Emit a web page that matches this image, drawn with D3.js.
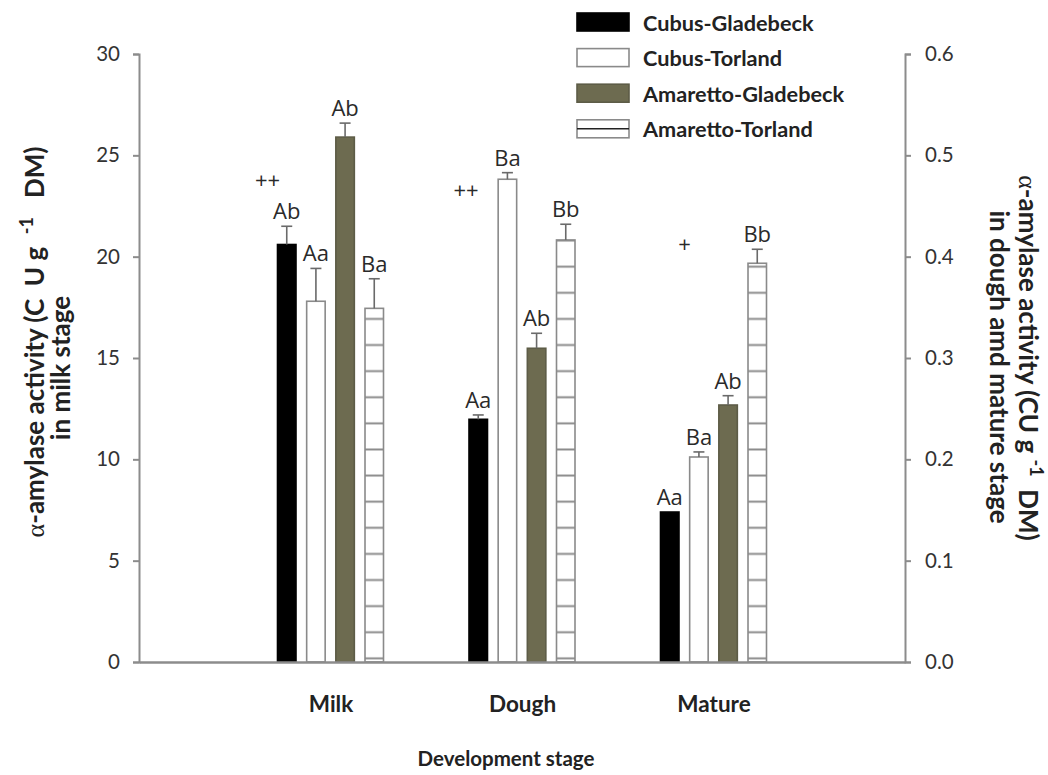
<!DOCTYPE html>
<html>
<head>
<meta charset="utf-8">
<script src="https://cdn.jsdelivr.net/npm/d3@7"></script>
<style>
  html, body { margin: 0; padding: 0; background: #fff; }
  svg { display: block; }
</style>
</head>
<body>
<svg id="chart" width="1048" height="775"></svg>
<script>
// Development stages and cultivar-location series
const stages = ["Milk", "Dough", "Mature"];
const series = ["Cubus-Gladebeck", "Cubus-Torland", "Amaretto-Gladebeck", "Amaretto-Torland"];

// Milk stage is read on the left axis, dough and mature on the right axis
const milkValues   = [20.6, 17.8, 25.9, 17.45];
const milkErrors   = [0.9, 1.62, 0.69, 1.46];
const doughValues  = [0.2395, 0.4764, 0.3096, 0.4165];
const doughErrors  = [0.0043, 0.0065, 0.0148, 0.0155];
const matureValues = [0.148, 0.2023, 0.2536, 0.3935];
const matureErrors = [0, 0.005, 0.0092, 0.0138];

// Significance letters above each bar
const milkLetters   = ["Ab", "Aa", "Ab", "Ba"];
const doughLetters  = ["Aa", "Ba", "Ab", "Bb"];
const matureLetters = ["Aa", "Ba", "Ab", "Bb"];
const stageMarks    = ["++", "++", "+"];

// Axis ticks
const leftTicks  = [0, 5, 10, 15, 20, 25, 30];
const rightTicks = [0, 0.1, 0.2, 0.3, 0.4, 0.5, 0.6];

const svg = d3.select("#chart");

const plot = { left: 139, right: 905, top: 54, bottom: 662 };

const yL = d3.scaleLinear().domain([0, 30]).range([plot.bottom, plot.top]);
const yR = d3.scaleLinear().domain([0, 0.6]).range([plot.bottom, plot.top]);

const x0 = d3.scalePoint().domain(stages).range([plot.left, plot.right]).padding(1);
const x1 = d3.scaleBand().domain(series).range([-53, 53]).paddingInner(0.366);

const fills = {
  "Cubus-Gladebeck": "#000000",
  "Cubus-Torland": "#ffffff",
  "Amaretto-Gladebeck": "#6d6b50",
  "Amaretto-Torland": "url(#hlines)"
};
const strokes = {
  "Cubus-Gladebeck": "#000000",
  "Cubus-Torland": "#8a8a8a",
  "Amaretto-Gladebeck": "#5d5c47",
  "Amaretto-Torland": "#8a8a8a"
};

// Horizontal-line fill
const defs = svg.append("defs");
const hStep = 26.11;
const pat = defs.append("pattern")
  .attr("id", "hlines")
  .attr("patternUnits", "userSpaceOnUse")
  .attr("x", 0).attr("y", 266.7 - hStep / 2)
  .attr("width", 40).attr("height", hStep);
pat.append("rect").attr("width", 40).attr("height", hStep).attr("fill", "#fff");
pat.append("line")
  .attr("x1", 0).attr("x2", 40)
  .attr("y1", hStep / 2).attr("y2", hStep / 2)
  .attr("stroke", "#8a8a8a").attr("stroke-width", 2);

// Assemble rows for drawing
const stageData = [
  { stage: "Milk",   values: milkValues,   errors: milkErrors,   letters: milkLetters,   y: yL },
  { stage: "Dough",  values: doughValues,  errors: doughErrors,  letters: doughLetters,  y: yR },
  { stage: "Mature", values: matureValues, errors: matureErrors, letters: matureLetters, y: yR }
];
const rows = [];
stageData.forEach(sd => {
  series.forEach((s, i) => {
    rows.push({ stage: sd.stage, series: s, value: sd.values[i], err: sd.errors[i], letter: sd.letters[i], y: sd.y });
  });
});

const barX = d => x0(d.stage) + x1(d.series);
const bw = x1.bandwidth();

// Bars
svg.append("g").selectAll("rect")
  .data(rows).join("rect")
  .attr("x", barX)
  .attr("y", d => d.y(d.value))
  .attr("width", bw)
  .attr("height", d => plot.bottom - d.y(d.value))
  .attr("fill", d => fills[d.series])
  .attr("stroke", d => strokes[d.series])
  .attr("stroke-width", 1.6);

// Error bars
const eb = svg.append("g").attr("stroke", "#6a6a6a").attr("stroke-width", 1.6);
rows.filter(d => d.err > 0).forEach(d => {
  const cx = barX(d) + bw / 2;
  eb.append("line").attr("x1", cx).attr("x2", cx)
    .attr("y1", d.y(d.value)).attr("y2", d.y(d.value + d.err));
  eb.append("line").attr("x1", cx - 5.5).attr("x2", cx + 5.5)
    .attr("y1", d.y(d.value + d.err)).attr("y2", d.y(d.value + d.err));
});

// Letters above bars
const noteFont = "'Open Sans', 'DejaVu Sans', sans-serif";
svg.append("g").selectAll("text")
  .data(rows).join("text")
  .attr("x", d => barX(d) + bw / 2)
  .attr("y", d => d.y(d.value + d.err) - 7)
  .attr("text-anchor", "middle")
  .attr("font-family", noteFont)
  .attr("font-size", 22)
  .attr("fill", "#2a2a2a")
  .text(d => d.letter);

// Stage-level difference marks
const markPlace = {
  Milk:   { dx: -63, y: () => yL(23.8) },
  Dough:  { dx: -56, y: () => yR(0.466) },
  Mature: { dx: -29, y: () => yR(0.4125) }
};
svg.append("g").selectAll("text")
  .data(stages.map((s, i) => ({ stage: s, mark: stageMarks[i] })))
  .join("text")
  .attr("x", d => x0(d.stage) + markPlace[d.stage].dx)
  .attr("y", d => markPlace[d.stage].y() + 8)
  .attr("text-anchor", "middle")
  .attr("font-family", noteFont)
  .attr("font-size", 22)
  .attr("fill", "#2a2a2a")
  .text(d => d.mark);

// Axes
const axisColor = "#8c8c8c";
const tickFont = "Lato, 'Open Sans', sans-serif";

const gL = svg.append("g").attr("transform", `translate(${plot.left},0)`)
  .call(d3.axisLeft(yL).tickValues(leftTicks).tickFormat(d3.format("d")).tickSizeOuter(0).tickSize(6).tickPadding(13));
const gR = svg.append("g").attr("transform", `translate(${plot.right},0)`)
  .call(d3.axisRight(yR).tickValues(rightTicks).tickFormat(d3.format(".1f")).tickSizeOuter(0).tickSize(6).tickPadding(14));
[gL, gR].forEach(g => {
  g.select(".domain").attr("stroke", axisColor).attr("stroke-width", 2);
  g.selectAll(".tick line").attr("stroke", axisColor).attr("stroke-width", 2);
  g.selectAll(".tick text").attr("font-family", tickFont).attr("font-size", 20.5).attr("fill", "#333");
});

// Category axis: baseline plus stage labels
const gB = svg.append("g").attr("transform", `translate(0,${plot.bottom})`)
  .call(d3.axisBottom(x0).tickSize(0).tickPadding(34));
gB.select(".domain").attr("stroke", axisColor).attr("stroke-width", 2.5);
gB.selectAll(".tick text")
  .attr("font-family", tickFont).attr("font-weight", 700)
  .attr("font-size", 22.5).attr("fill", "#222");

// Axis titles
svg.append("text")
  .attr("x", (plot.left + plot.right) / 2 - 16).attr("y", 766)
  .attr("text-anchor", "middle")
  .attr("font-family", tickFont).attr("font-weight", 700)
  .attr("font-size", 20.5).attr("fill", "#222")
  .text("Development stage");

const nb = n => "\u00A0".repeat(n);
function titleLine1(t, units, gap) {
  t.append("tspan").attr("font-family", "Liberation Serif, serif").attr("font-weight", 400).text("α");
  t.append("tspan").text("-amylase activity (" + units + nb(1) + "g" + nb(gap));
  t.append("tspan").attr("dy", -11).attr("font-size", 18).text("-1");
  t.append("tspan").attr("dy", 11).text(nb(gap + 1) + "DM)");
}

const leftTitle = svg.append("g").attr("transform", "translate(44,342) rotate(-90)")
  .attr("font-family", tickFont).attr("font-weight", 700).attr("font-size", 26).attr("fill", "#222");
titleLine1(leftTitle.append("text").attr("text-anchor", "middle"), "C" + nb(2) + "U", 2);
leftTitle.append("text").attr("text-anchor", "middle").attr("x", -26).attr("y", 26).text("in milk stage");

const rightTitle = svg.append("g").attr("transform", "translate(1019,358) rotate(90)")
  .attr("font-family", tickFont).attr("font-weight", 700).attr("font-size", 26).attr("fill", "#222");
titleLine1(rightTitle.append("text").attr("text-anchor", "middle"), "CU", 1);
rightTitle.append("text").attr("text-anchor", "middle").attr("x", 9).attr("y", 29).text("in dough amd mature stage");

// Legend
const legend = svg.append("g").attr("transform", "translate(577,13)");
const li = legend.selectAll("g").data(series).join("g")
  .attr("transform", (d, i) => `translate(0,${i * 35.6})`);
li.append("rect")
  .attr("width", 52).attr("height", 18)
  .attr("fill", d => d === "Amaretto-Torland" ? "#fff" : fills[d])
  .attr("stroke", d => strokes[d]).attr("stroke-width", 1.6);
li.filter(d => d === "Amaretto-Torland").append("line")
  .attr("x1", 0).attr("x2", 52).attr("y1", 9).attr("y2", 9)
  .attr("stroke", "#222").attr("stroke-width", 1.6);
li.append("text")
  .attr("x", 66).attr("y", 17.5)
  .attr("font-family", tickFont).attr("font-weight", 700)
  .attr("font-size", 21.7).attr("fill", "#222")
  .text(d => d);
</script>
</body>
</html>
